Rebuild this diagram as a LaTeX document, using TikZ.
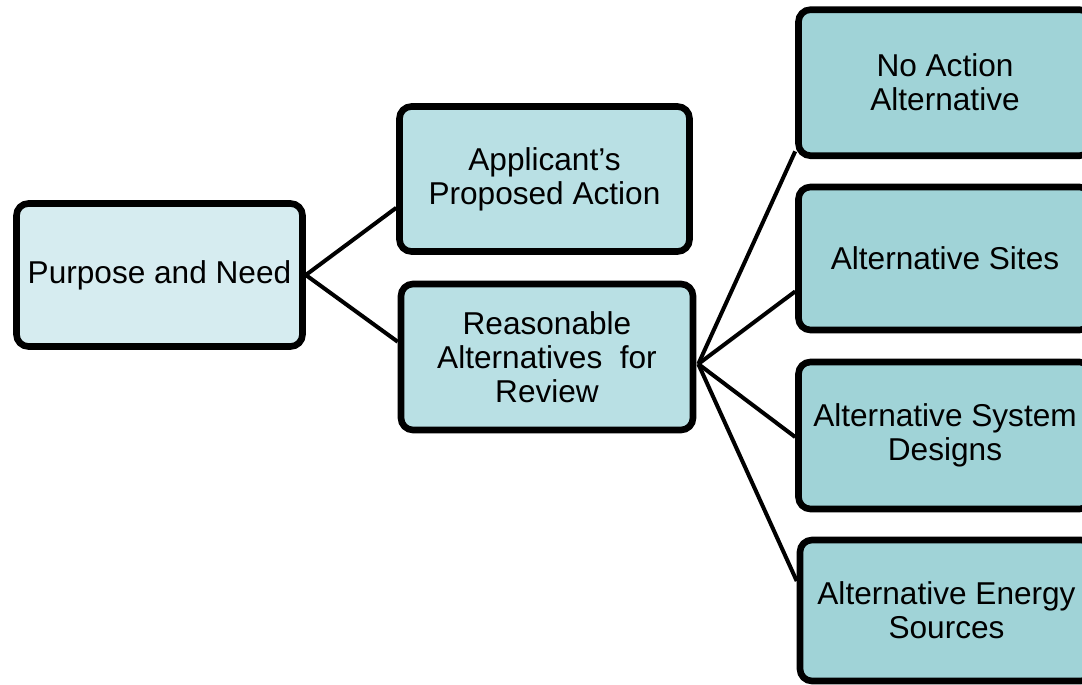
\documentclass[tikz,border=0pt]{standalone}
\usepackage{fontspec}
\setmainfont{Liberation Sans}
\usetikzlibrary{calc}
\definecolor{needfill}{RGB}{214,236,240}
\definecolor{midfill}{RGB}{185,224,228}
\definecolor{altfill}{RGB}{160,211,215}
\tikzstyle{stage} = [rectangle, draw, line width=3.3pt, rounded corners=6pt, text centered, align=center, inner sep=0pt, font=\fontsize{15.8}{17}\selectfont]
\tikzstyle{link} = [draw, line width=2pt]

\begin{document}
\begin{tikzpicture}[x=0.5pt,y=-0.5pt]
            \useasboundingbox (0,0) rectangle (1082,685);
            \clip (0,0) rectangle (1082,685);
            % first column
            \node[stage, fill=needfill, minimum width=143pt, minimum height=71.5pt] (need) at (159.5,275) {Purpose and Need};
            % second column
            \node[stage, fill=midfill, minimum width=145pt, minimum height=72.5pt] (applicant) at (544.5,179) {Applicant's\\Proposed Action};
            \node[stage, fill=midfill, minimum width=146pt, minimum height=73pt] (reason) at (547,357) {Reasonable\\Alternatives\ \ for\\Review};
            % third column
            \node[stage, fill=altfill, minimum width=146.5pt, minimum height=73pt] (noaction) at (945,82.7) {No Action\\Alternative};
            \node[stage, fill=altfill, minimum width=146.5pt, minimum height=71.5pt] (sites) at (945,258.5) {Alternative Sites};
            \node[stage, fill=altfill, minimum width=146.5pt, minimum height=73.5pt] (designs) at (945,435.5) {Alternative System\\Designs};
            \node[stage, fill=altfill, minimum width=146.5pt, minimum height=70.5pt] (energy) at (946.5,610.5) {Alternative Energy\\Sources};
            \coordinate (hub) at ($(reason.east)+(2,7)$);
            % connectors
            \draw[link] (need.east) -- ($(applicant.north west)!0.69!(applicant.south west)$);
            \draw[link] (need.east) -- ($(reason.north west)!0.4!(reason.south west)$);
            \draw[link] (hub) -- ($(noaction.north west)!0.95!(noaction.south west)$);
            \draw[link] (hub) -- ($(sites.north west)!0.72!(sites.south west)$);
            \draw[link] (hub) -- ($(designs.north west)!0.51!(designs.south west)$);
            \draw[link] (hub) -- ($(energy.north west)!0.3!(energy.south west)$);
        \end{tikzpicture}
\end{document}
